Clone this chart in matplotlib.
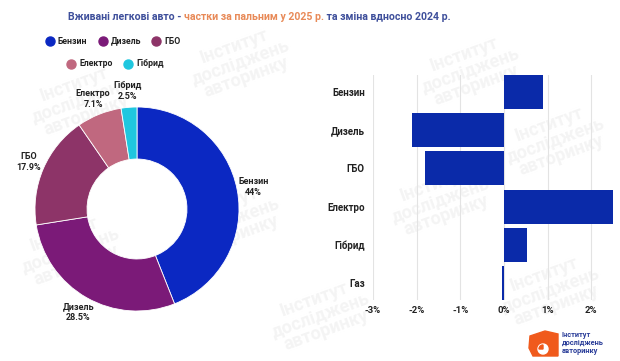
import matplotlib
matplotlib.use('Agg')
import matplotlib.pyplot as plt
from matplotlib.patches import Polygon, Wedge, Circle

plt.rcParams['font.family'] = ['Roboto', 'DejaVu Sans']
plt.rcParams['font.weight'] = 'bold'

# donut: fuel shares 2025
fuels = ['Бензин', 'Дизель', 'ГБО', 'Електро', 'Гібрид']
shares = [44, 28.5, 17.9, 7.1, 2.5]
share_labels = ['44%', '28.5%', '17.9%', '7.1%', '2.5%']
colors = ['#0b28c2', '#7b1a78', '#8d3468', '#c0687f', '#1fc7df']

# bars: change vs 2024, percentage points
bar_cats = ['Бензин', 'Дизель', 'ГБО', 'Електро', 'Гібрид', 'Газ']
bar_vals = [0.9, -2.1, -1.8, 2.5, 0.53, -0.04]
xticks = [-3, -2, -1, 0, 1, 2]
xtick_labels = ['-3%', '-2%', '-1%', '0%', '1%', '2%']

W, H = 620, 361
fig = plt.figure(figsize=(6.2, 3.61), dpi=100)
fig.patch.set_facecolor('white')

# background overlay in pixel coords (watermarks, legend, logo)
bg = fig.add_axes([0, 0, 1, 1], zorder=0)
bg.set_xlim(0, W)
bg.set_ylim(H, 0)
bg.axis('off')

wm = 'Інститут\nдосліджень\nавторинку'
for (wx, wy) in [(80, 100), (240, 62), (470, 70), (70, 250), (230, 220), (440, 200), (555, 140), (320, 315), (550, 290)]:
    bg.text(wx, wy, wm, fontsize=13, color='#f4f4f4', rotation=20,
            ha='center', va='center', linespacing=0.9, zorder=0)

# title in three coloured parts
title_parts = [('Вживані легкові авто - ', '#3e4f9b'),
               ('частки за пальним у 2025 р.', '#e88a58'),
               (' та зміна вдносно 2024 р.', '#3e4f9b')]
r = fig.canvas.get_renderer()
widths = []
for s, c in title_parts:
    t = fig.text(0, 0, s, fontsize=7.6)
    widths.append(t.get_window_extent(renderer=r).width)
    t.remove()
x = 259 - sum(widths) / 2
for (s, c), w in zip(title_parts, widths):
    fig.text(x / W, 1 - 17 / H, s, fontsize=7.6, color=c, va='center')
    x += w

# legend
leg_pos = [(50, 41), (103, 41), (156, 41), (71, 64), (128, 64)]
for (lx, ly), name, c in zip(leg_pos, fuels, colors):
    bg.plot(lx, ly, 'o', color=c, markersize=6.5)
    bg.text(lx + 8, ly, name, fontsize=6.3, va='center', color='#222222')

# donut
cx, cy, rad = 137, 209, 102
ax1 = fig.add_axes([(cx - rad) / W, (H - cy - rad) / H, 2 * rad / W, 2 * rad / H], zorder=2)
wedges, texts = ax1.pie(shares, colors=colors, startangle=90, counterclock=False,
                        labels=[f + '\n' + p for f, p in zip(fuels, share_labels)],
                        labeldistance=1.16, wedgeprops=dict(width=0.51, edgecolor='white', linewidth=0.6),
                        textprops=dict(fontsize=6.5, color='#222222', linespacing=1.3))
for t in texts:
    t.set_ha('center')
    t.set_va('center')
ax1.set_xlim(-1, 1)
ax1.set_ylim(-1, 1)

# bars
ax2 = fig.add_axes([373 / W, (H - 300) / H, (614 - 373) / W, 225 / H], zorder=2)
ax2.patch.set_alpha(0)
ypos = list(range(len(bar_cats)))
ax2.barh(ypos, bar_vals, height=0.89, color='#0a2aa9', zorder=3)
ax2.set_xlim(-3, 2.52)
ax2.set_ylim(5.45, -0.45)
ax2.set_yticks(ypos)
ax2.set_yticklabels(bar_cats, fontsize=7, color='#222222')
ax2.set_xticks(xticks)
ax2.set_xticklabels(xtick_labels, fontsize=6.8, color='#222222')
ax2.tick_params(length=0, pad=6)
ax2.tick_params(axis='x', pad=4)
ax2.grid(axis='x', color='#e3e3e3', linewidth=0.8, zorder=0)
for s in ax2.spines.values():
    s.set_visible(False)

# logo
bg.add_patch(Polygon([(530, 336), (545, 331), (558, 334), (558, 356), (533, 356), (529, 348)],
                     closed=True, color='#f05a1c', zorder=3))
bg.add_patch(Circle((543, 349), 5, color='white', zorder=4))
bg.add_patch(Wedge((543, 349), 4, 180, 270, color='#f05a1c', zorder=5))
bg.text(562, 343, 'Інститут\nдосліджень\nавторинку', fontsize=5.3, color='#2a3d99',
        va='center', ha='left', linespacing=1.0, zorder=4)

fig.savefig('out.png', dpi=100)
